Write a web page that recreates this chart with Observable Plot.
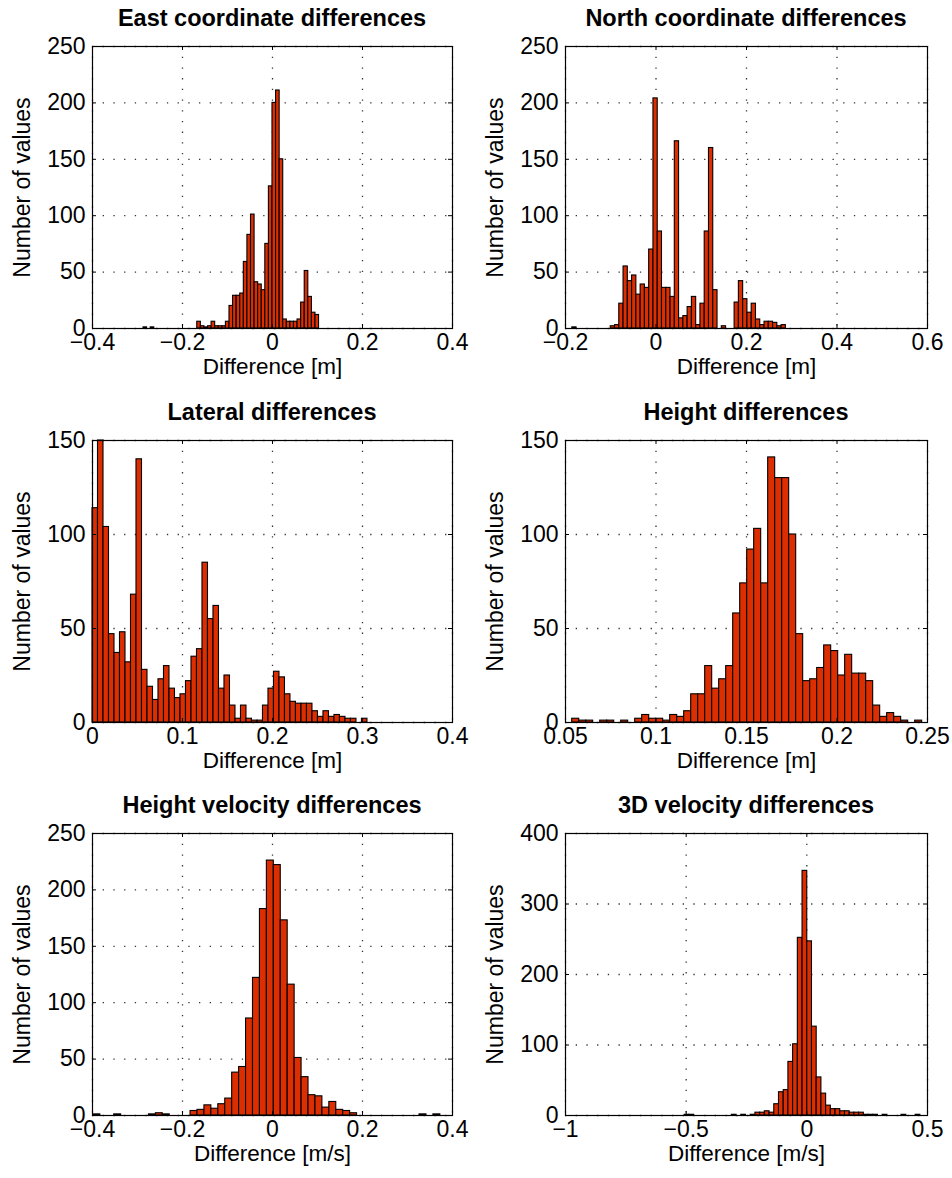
<!DOCTYPE html>
<html>
<head>
<meta charset="utf-8">
<script src="https://cdn.jsdelivr.net/npm/d3@7"></script>
<script src="https://cdn.jsdelivr.net/npm/@observablehq/plot@0.6"></script>
<style>
  body { margin: 0; background: #fff; }
  #wrap { position: relative; width: 952px; height: 1178px; overflow: hidden; font-family: "Liberation Sans", Arial, sans-serif; }
  .panel { position: absolute; width: 476px; }
  .title { font-weight: bold; font-size: 23.5px; line-height: 30px; text-align: center; color: #000; box-sizing: border-box; white-space: nowrap; }
</style>
</head>
<body>
<div id="wrap"></div>
<script>
// ---- Data ----
const titles = [
  "East coordinate differences", "North coordinate differences",
  "Lateral differences", "Height differences",
  "Height velocity differences", "3D velocity differences"
];
const xLabels = ["Difference [m]", "Difference [m]", "Difference [m]", "Difference [m]", "Difference [m/s]", "Difference [m/s]"];
const yLabel = "Number of values";

// Histogram counts (equal-width bins), with first bin start and bin width
const eastCounts = [1,0,1,0,0,0,0,0,0,0,0,0,0,0,0, 6,2,1,2,6,2,2,2,6,20,29,29,31,59,83,101,41,39,34,75,126,200,211,150,8,6,6,6,8,23,51,28,14,12];
const eastBinStart = -0.2866, eastBinWidth = 0.00796;

const northCounts = [1,0,0,0,0,0,0,0,0, 2,3,22,55,42,47,30,39,36,70,204,86,36,36,28,166,9,11,19,28,3,22,86,160,34, 0,2,0,0, 23,42,26,14,22,8,3,6,6,5,2,3];
const northBinStart = -0.185, northBinWidth = 0.00944;

const lateralCounts = [114,150,104,47,37,48,32,68,140,28,19,12,23,30,18,13,15,22,35,39,85,55,62,18,25,9,2,9,2,1,1,9,18,27,24,15,11,10,10,10,6,3,6,3,4,3,2,2,0,2];
const lateralBinStart = 0.0, lateralBinWidth = 0.00611;

const heightCounts = [2,1,1,0,1,1,0,1,0,2,4,2,2,1,4,3,6,15,15,30,18,23,30,58,74,92,103,74,141,130,130,100,47,22,23,29,41,38,25,36,26,26,22,9,3,5,3,1,0,1];
const heightBinStart = 0.0537, heightBinWidth = 0.003867;

const hvelCounts = [1,0,0,1,0,0,0,0,1,2,1,0,0,0, 4,5,9,6,10,15,38,43,86,122,183,226,222,173,116,51,34,18,17,7,12,5,4,2, 0,0,0,0,0,0,0,0,0,1,0,1];
const hvelBinStart = -0.398, hvelBinWidth = 0.01542;

const vel3dCounts = [1,1,0,0,0,0,0,0,0,0, 1,0,1,0,1,4,4,6,4,16, 33,36,76,101,252,347,247,126,54,31, 14,9,9,6,6,4,4,4,1,1, 1,0,1,0,0,0,1,0,0,1];
const vel3dBinStart = -0.506, vel3dBinWidth = 0.01953;

// Axis tick values (first/last = axis limits)
const eastXTicks = [-0.4, -0.2, 0, 0.2, 0.4];
const northXTicks = [-0.2, 0, 0.2, 0.4, 0.6];
const lateralXTicks = [0, 0.1, 0.2, 0.3, 0.4];
const heightXTicks = [0.05, 0.1, 0.15, 0.2, 0.25];
const hvelXTicks = [-0.4, -0.2, 0, 0.2, 0.4];
const vel3dXTicks = [-1, -0.5, 0, 0.5];
const yTicks250 = [0, 50, 100, 150, 200, 250];
const yTicks150 = [0, 50, 100, 150];
const yTicks400 = [0, 100, 200, 300, 400];

// ---- Build panels ----
const panels = [
  {title: titles[0], xLabel: xLabels[0], counts: eastCounts, start: eastBinStart, w: eastBinWidth, xTicks: eastXTicks, yTicks: yTicks250, col: 0, row: 0},
  {title: titles[1], xLabel: xLabels[1], counts: northCounts, start: northBinStart, w: northBinWidth, xTicks: northXTicks, yTicks: yTicks250, col: 1, row: 0},
  {title: titles[2], xLabel: xLabels[2], counts: lateralCounts, start: lateralBinStart, w: lateralBinWidth, xTicks: lateralXTicks, yTicks: yTicks150, col: 0, row: 1},
  {title: titles[3], xLabel: xLabels[3], counts: heightCounts, start: heightBinStart, w: heightBinWidth, xTicks: heightXTicks, yTicks: yTicks150, col: 1, row: 1},
  {title: titles[4], xLabel: xLabels[4], counts: hvelCounts, start: hvelBinStart, w: hvelBinWidth, xTicks: hvelXTicks, yTicks: yTicks250, col: 0, row: 2},
  {title: titles[5], xLabel: xLabels[5], counts: vel3dCounts, start: vel3dBinStart, w: vel3dBinWidth, xTicks: vel3dXTicks, yTicks: yTicks400, col: 1, row: 2}
];

const BAR = "#dc2e00";
const rowTops = [0, 394, 787];
const fmt = d => String(+(+d).toFixed(4)).replace("-", "\u2212");
const wrap = document.getElementById("wrap");

panels.forEach(p => {
  const W = 476, H = 362;
  const mL = p.col === 0 ? 92 : 89;
  const mR = p.col === 0 ? 24 : 25;
  const mT = 13, mB = 67;
  const iw = W - mL - mR, ih = H - mT - mB;
  const bins = p.counts.map((c, i) => ({x1: p.start + i * p.w, x2: p.start + (i + 1) * p.w, n: c}));
  const xDomain = [p.xTicks[0], p.xTicks[p.xTicks.length - 1]];
  const yDomain = [p.yTicks[0], p.yTicks[p.yTicks.length - 1]];
  const tl = 4;

  const div = document.createElement("div");
  div.className = "panel";
  div.style.left = (p.col === 0 ? 0 : 476) + "px";
  div.style.top = rowTops[p.row] + "px";
  const t = document.createElement("div");
  t.className = "title";
  t.style.paddingLeft = mL + "px";
  t.style.paddingRight = mR + "px";
  t.style.paddingTop = "3px";
  t.textContent = p.title;
  div.appendChild(t);

  const chart = Plot.plot({
    width: W, height: H,
    marginLeft: mL, marginRight: mR, marginTop: mT, marginBottom: mB,
    style: {fontFamily: "'Liberation Sans', Arial, sans-serif", fontSize: "23px", color: "black", background: "white", overflow: "visible"},
    x: {domain: xDomain},
    y: {domain: yDomain},
    marks: [
      Plot.gridX(p.xTicks, {stroke: "black", strokeOpacity: 0.8, strokeWidth: 1.3, strokeDasharray: "1.3,9.4"}),
      Plot.gridY(p.yTicks, {stroke: "black", strokeOpacity: 0.8, strokeWidth: 1.3, strokeDasharray: "1.3,9.4"}),
      Plot.rect(bins, {x1: "x1", x2: "x2", y1: 0, y2: "n", fill: BAR, stroke: "black", strokeWidth: 1.1}),
      Plot.tickX(p.xTicks, {x: d => d, insetTop: ih - tl, stroke: "black"}),
      Plot.tickX(p.xTicks, {x: d => d, insetBottom: ih - tl, stroke: "black"}),
      Plot.tickY(p.yTicks, {y: d => d, insetRight: iw - tl, stroke: "black"}),
      Plot.tickY(p.yTicks, {y: d => d, insetLeft: iw - tl, stroke: "black"}),
      Plot.axisX(p.xTicks, {tickSize: 0, tickPadding: 5, tickFormat: fmt, label: null}),
      Plot.axisY(p.yTicks, {tickSize: 0, tickPadding: 7, tickFormat: fmt, label: null}),
      Plot.text([p.xLabel], {text: d => d, frameAnchor: "bottom", dy: 38, lineAnchor: "middle", fontSize: 22.5, fill: "black"}),
      Plot.text([yLabel], {text: d => d, frameAnchor: "left", dx: -70, rotate: -90, lineAnchor: "middle", textAnchor: "middle", fontSize: 23, fill: "black"}),
      Plot.frame({stroke: "black", strokeWidth: 1.2})
    ]
  });
  div.appendChild(chart);
  wrap.appendChild(div);
});
</script>
</body>
</html>
